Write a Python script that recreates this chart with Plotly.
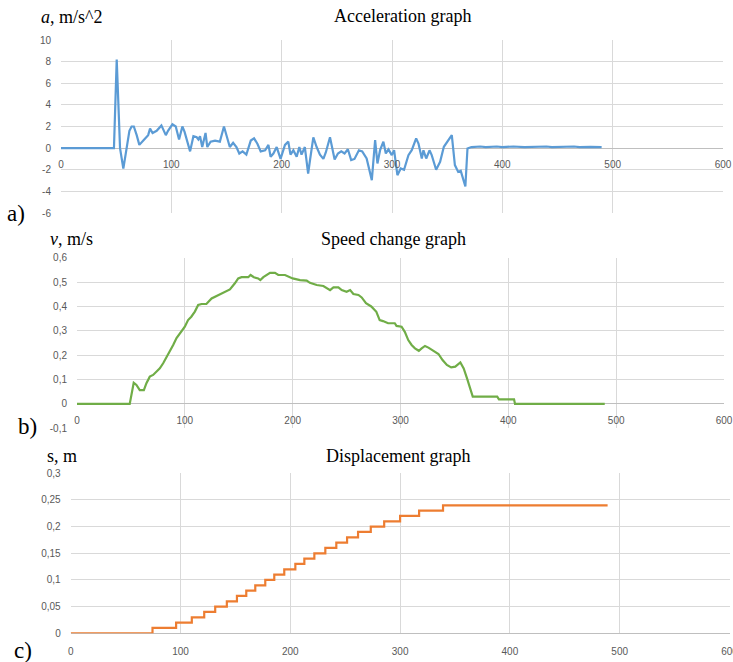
import plotly.graph_objects as go

# ---------------- data ----------------
acc_t = [0, 48, 50.5, 53.5, 56.5, 60, 62, 64, 66, 68.6, 71, 74.6, 79, 80.7, 83, 86.7, 91, 95, 97, 101,
         104, 107, 110, 112, 114.5, 117, 120, 123, 124.5, 126, 128, 131, 132.6, 135.6, 139.6, 144,
         147.7, 150, 153, 156, 159, 161.6, 164.6, 168, 172, 175, 178, 181, 185, 188, 190, 192.5,
         195.5, 199, 203, 206, 208, 210.6, 213.6, 216, 218, 221, 224, 225.7, 228.7, 231.7, 234.7,
         237.8, 240, 243.8, 246.8, 248, 251, 254, 257, 260, 263, 266, 270, 273, 277, 281.7, 284.7,
         286.8, 289.2, 292.2, 294.4, 296.8, 299.8, 301.9, 304.9, 307.9, 310.9, 314.9, 317.9, 321.9,
         324, 327, 328.5, 331, 334, 336, 340, 343.6, 347, 350, 354.2, 357, 360, 362.3, 366.5, 368.4,
         372, 380, 385, 395, 400, 410, 420, 440, 445, 465, 470, 480, 490]
acc_a = [0, 0, 8.2, 0.0, -1.9, 0.5, 1.6, 2.0, 2.0, 1.2, 0.3, 0.7, 1.2, 1.8, 1.4, 1.6, 2.1, 1.2, 1.6, 2.2,
         2.0, 0.8, 2.0, 1.5, 0.6, -0.3, 1.1, 1.0, 0.8, 1.1, 0.1, 1.4, 0.1, 0.6, 0.7, 0.6,
         2.0, 1.2, 0.1, 0.5, 0.1, -0.5, -0.3, -0.6, 0.7, 0.9, 0.4, -0.3, -0.2, 0.3, -0.8, -0.5,
         0.1, -1.0, 0.3, 0.6, -0.6, -0.2, -0.8, 0.1, -0.6, 0.1, -2.35, -1.1, 1.0, 0.1, -0.6,
         -1.0, -0.4, 1.0, -0.5, -1.05, -0.5, -0.3, -0.5, -0.1, -1.1, -1.0, -0.2, -0.3, -0.96, -2.96, 0.74,
         -1.42, -0.19, 0.59, -0.49, -0.12, -0.65, -0.19, -2.5, -1.88, -2.0, -0.65, -0.19, 0.9,
         0.43, -0.96, -0.2, -0.96, -0.2, -0.65, -2.0, -1.27, 0.12, 0.59, 1.2, -1.57, -2.2, -2.1, -3.55, -0.03,
         0.1, 0.15, 0.1, 0.15, 0.1, 0.15, 0.1, 0.15, 0.1, 0.15, 0.1, 0.12, 0.1]

v_t = [0, 48.9, 52.6, 55.1, 58.2, 62, 64.4, 67.5, 70.6, 73.7, 76.8, 79.9, 83, 86, 89.2, 92.3, 95.4,
       100, 103, 106, 109.3, 112.4, 115.5, 120, 124.8, 127.9, 132.5, 137, 141.8, 146.4, 149.5,
       152.6, 158.8, 161, 164, 168, 170, 172.8, 175.9, 179, 183.6, 186.7, 192.9, 197.5, 200,
       206.8, 213, 216, 222.3, 228.5, 231.6, 234.7, 237.8, 242.4, 245.5, 250, 253.3, 256.3, 261,
       264, 268, 272.9, 277.6, 280.7, 283.8, 288.5, 294.7, 296.3, 301, 304, 307.2, 310.3, 313.4,
       317, 319.6, 322.7, 325.9, 330.5, 335.2, 339, 343, 347, 350.8, 355.5, 358.6, 361.7, 364.8,
       367, 389.7, 391.3, 405.3, 406.2, 489.4]
v_v = [0, 0, 0.087, 0.078, 0.057, 0.057, 0.085, 0.112, 0.119, 0.133, 0.146, 0.167, 0.19, 0.215,
       0.242, 0.27, 0.29, 0.317, 0.344, 0.358, 0.379, 0.406, 0.41, 0.41, 0.433, 0.44, 0.447, 0.46,
       0.47, 0.495, 0.515, 0.52, 0.52, 0.529, 0.52, 0.515, 0.508, 0.52, 0.529, 0.538, 0.538, 0.529,
       0.529, 0.522, 0.515, 0.508, 0.506, 0.497, 0.488, 0.484, 0.474, 0.467, 0.478, 0.478, 0.467,
       0.46, 0.467, 0.451, 0.447, 0.437, 0.413, 0.40, 0.378, 0.344, 0.340, 0.331, 0.331, 0.32,
       0.317, 0.296, 0.262, 0.242, 0.228, 0.218, 0.228, 0.238, 0.231, 0.218, 0.205, 0.18, 0.16,
       0.15, 0.153, 0.17, 0.146, 0.105, 0.057, 0.03, 0.03, 0.019, 0.019, 0.0, 0.0]

s_t = [0, 74.5, 96, 110.3, 121.6, 131.6, 142.2, 151.4, 159.9, 168.1, 177.2, 185.4, 194.5, 204.6,
       212.8, 221.9, 231.9, 241.9, 251.7, 261.7, 273.3, 285.5, 300, 317.3, 339.1, 489]
s_s = [0, 0.01, 0.02, 0.03, 0.04, 0.05, 0.06, 0.07, 0.08, 0.09, 0.10, 0.11, 0.12, 0.13,
       0.14, 0.15, 0.16, 0.17, 0.18, 0.19, 0.20, 0.21, 0.22, 0.23, 0.24, 0.24]

x_ticks = [0, 100, 200, 300, 400, 500, 600]
x_tick_text = ["0", "100", "200", "300", "400", "500", "600"]
a_ticks = [-6, -4, -2, 0, 2, 4, 6, 8, 10]
a_tick_text = ["-6", "-4", "-2", "0", "2", "4", "6", "8", "10"]
v_ticks = [-0.1, 0, 0.1, 0.2, 0.3, 0.4, 0.5, 0.6]
v_tick_text = ["-0,1", "0", "0,1", "0,2", "0,3", "0,4", "0,5", "0,6"]
s_ticks = [0, 0.05, 0.1, 0.15, 0.2, 0.25, 0.3]
s_tick_text = ["0", "0,05", "0,1", "0,15", "0,2", "0,25", "0,3"]

W, H = 733, 662
def px(x):
    return x / W
def py(y):
    return 1 - y / H

fig = go.Figure()
fig.add_trace(go.Scatter(x=acc_t, y=acc_a, mode="lines", line=dict(color="#5B9BD5", width=2.2),
                         xaxis="x", yaxis="y", showlegend=False))
fig.add_trace(go.Scatter(x=v_t, y=v_v, mode="lines", line=dict(color="#70AD47", width=2.2),
                         xaxis="x2", yaxis="y2", showlegend=False))
fig.add_trace(go.Scatter(x=s_t, y=s_s, mode="lines", line=dict(color="#ED7D31", width=2.2, shape="hv"),
                         xaxis="x3", yaxis="y3", showlegend=False))

grid = "#d9d9d9"
tickfont = dict(family="Liberation Sans", size=10, color="#595959")

def xax(domain, anchor, position, ttext, standoff):
    d = dict(domain=domain, range=[0, 600], tickvals=x_ticks, ticktext=ttext, showgrid=True,
             gridcolor=grid, gridwidth=1, zeroline=False, showline=False, ticks="",
             tickfont=tickfont, ticklabelstandoff=standoff, automargin=False, fixedrange=True,
             ticklabeloverflow="allow")
    if anchor == "free":
        d.update(anchor="free", position=position)
    else:
        d.update(anchor=anchor)
    return d

def yax(domain, anchor, rng, tv, tt):
    return dict(domain=domain, range=rng, tickvals=tv, ticktext=tt, showgrid=True, gridcolor=grid,
                gridwidth=1, zeroline=True, zerolinecolor="#bfbfbf", zerolinewidth=1, showline=False,
                ticks="", tickfont=tickfont, ticklabelstandoff=9, anchor=anchor, automargin=False,
                fixedrange=True)

fig.update_layout(
    width=W, height=H, margin=dict(l=0, r=0, t=0, b=0, autoexpand=False),
    paper_bgcolor="white", plot_bgcolor="white",
    xaxis=xax([px(61), px(723)], "free", py(148), x_tick_text, 9),
    yaxis=yax([py(213), py(40)], "x", [-6, 10], a_ticks, a_tick_text),
    xaxis2=xax([px(77), px(724)], "free", py(404), x_tick_text, 9),
    yaxis2=yax([py(428.3), py(257.7)], "x2", [-0.1, 0.6], v_ticks, v_tick_text),
    xaxis3=xax([px(70.7), px(729.5)], "y3", None, x_tick_text, 11),
    yaxis3=yax([py(633.3), py(473.3)], "x3", [0, 0.3], s_ticks, s_tick_text),
)

serif = "Liberation Serif"
annots = [
    ("Acceleration graph", 402, 16, "center", 18),
    ("<i>a</i>, m/s^2", 39, 17, "left", 18),
    ("Speed change graph", 393, 239, "center", 18),
    ("<i>v</i>, m/s", 48, 239, "left", 18),
    ("Displacement graph", 398, 456, "center", 18),
    ("s, m", 45, 456, "left", 18),
    ("a)", 5, 214, "left", 23),
    ("b)", 16, 426, "left", 23),
    ("c)", 12, 650, "left", 23),
]
for text, x, y, anchor, size in annots:
    fig.add_annotation(text=text, x=px(x), y=py(y), xref="paper", yref="paper", xanchor=anchor,
                       yanchor="middle", showarrow=False,
                       font=dict(family=serif, size=size, color="black"))

fig.write_html("out.html", config={"displayModeBar": False},
               post_script="document.body.style.margin='0';")
